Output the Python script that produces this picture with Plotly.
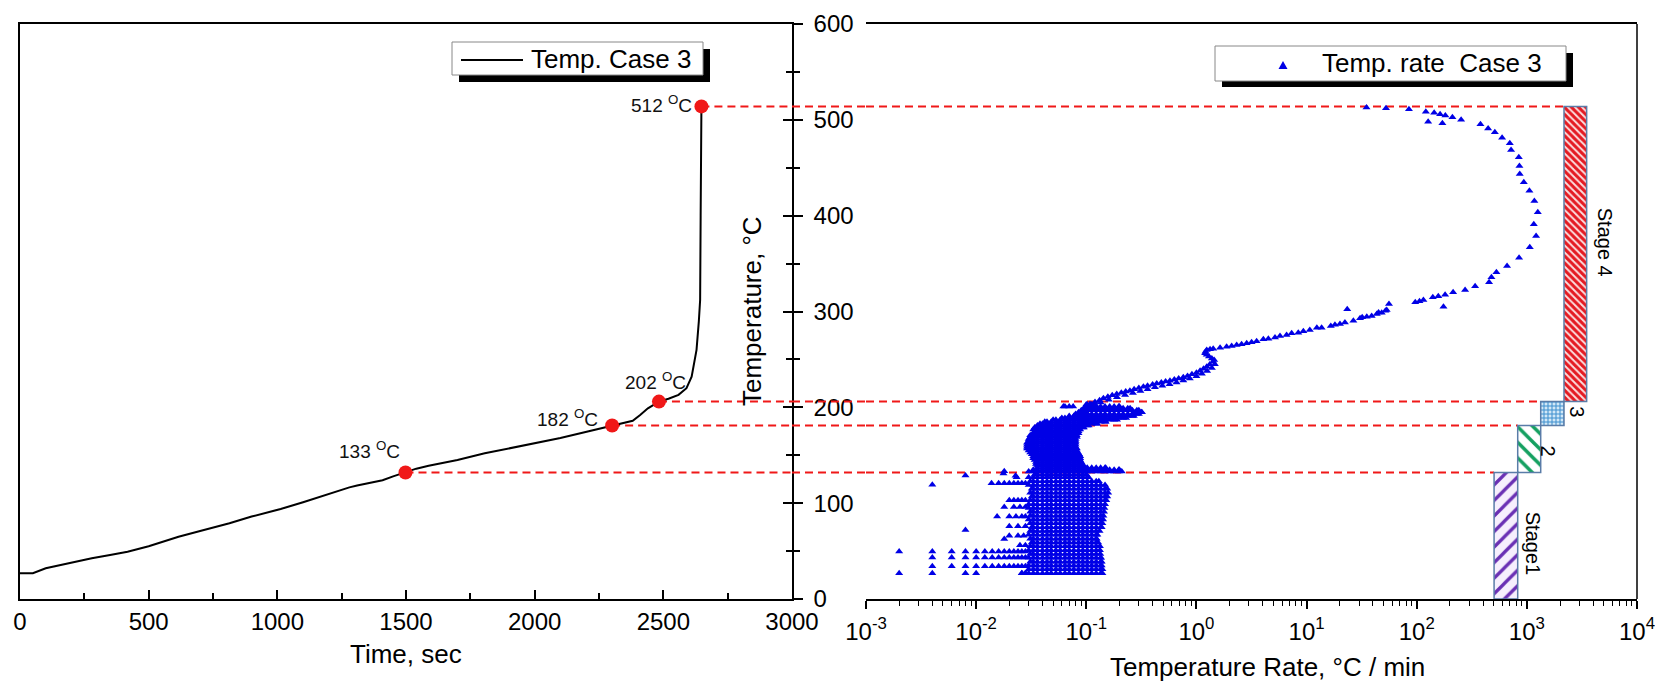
import math
import plotly.graph_objects as go

# ---------------- data : left panel (temperature history) ----------------
time_s = [0, 50, 100, 180, 279, 350, 418, 500, 616, 700, 814, 900, 1013, 1100, 1211, 1280,
          1310, 1409, 1450, 1498, 1540, 1588, 1700, 1806, 1900, 2004, 2100, 2202, 2301, 2350,
          2381, 2410, 2440, 2483, 2520, 2559, 2590, 2610, 2629, 2638, 2643, 2645, 2646, 2648]
temp_c = [27, 27, 32, 37, 42.5, 46, 49.4, 55, 65, 71, 79, 86, 94, 101, 111, 116.5,
          118.5, 124, 128, 132, 136, 139, 145, 152, 157, 162.5, 168, 174.6, 181, 184,
          186, 192, 199, 206, 209, 213, 220, 232, 260, 290, 312, 400, 480, 514]

# marked stage boundaries (plotted position and printed label)
mark_time = [1498, 2301, 2483, 2648]
mark_temp = [132, 181, 206, 514]
mark_label = ["133", "182", "202", "512"]

# ---------------- data : stage bars (right panel) ----------------
stage_names = ["Stage1", "2", "3", "Stage 4"]
stage_t_low = [0, 132, 181, 206]
stage_t_high = [132, 181, 206, 514]
stage_rate_low = [504, 826, 1336, 2174]
stage_rate_high = [826, 1336, 2174, 3491]

# ---------------- data : temperature rate scatter (right panel) ----------------
# dense cloud, read row by row: temperature, left edge and right edge of the filled band
rate_grid = [0.026, 0.028, 0.030, 0.033, 0.036, 0.040, 0.044, 0.048, 0.053, 0.058, 0.064,
             0.070, 0.077, 0.085, 0.093, 0.102, 0.112, 0.123, 0.135, 0.148, 0.163, 0.179,
             0.197, 0.216, 0.238, 0.262, 0.288, 0.317]
band_T = [27, 31, 35, 39, 43, 47, 51, 55, 59, 63, 67, 71, 75, 79, 83, 87, 91, 95, 99, 103,
          107, 111, 115, 119, 123, 127, 130,
          133, 135, 137, 139, 141, 143, 145, 147, 149, 151, 153, 155, 157, 159, 161, 163,
          165, 167, 169, 171, 173, 175, 177, 179, 181,
          183, 185, 187, 189, 191, 193, 195, 195, 197, 199, 201, 201, 203]
band_lo = [0.026, 0.030, 0.030, 0.031, 0.030, 0.031, 0.030, 0.031, 0.032, 0.031, 0.030, 0.031,
           0.032, 0.031, 0.030, 0.031, 0.031, 0.030, 0.030, 0.031, 0.032, 0.031, 0.032, 0.030,
           0.031, 0.030, 0.034,
           0.030, 0.033, 0.036, 0.036, 0.035, 0.035, 0.034, 0.033, 0.033, 0.032, 0.031, 0.030,
           0.029, 0.029, 0.029, 0.029, 0.030, 0.030, 0.031, 0.031, 0.033, 0.034, 0.033, 0.034,
           0.036,
           0.038, 0.042, 0.050, 0.060, 0.070, 0.080, 0.085, 0.270, 0.090, 0.095, 0.062, 0.100,
           0.100]
band_hi = [0.140, 0.140, 0.138, 0.138, 0.136, 0.134, 0.133, 0.133, 0.128, 0.124, 0.126, 0.132,
           0.138, 0.140, 0.142, 0.143, 0.145, 0.146, 0.148, 0.152, 0.155, 0.158, 0.155, 0.148,
           0.130, 0.105, 0.100,
           0.210, 0.200, 0.150, 0.095, 0.090, 0.090, 0.088, 0.088, 0.088, 0.086, 0.084, 0.082,
           0.082, 0.080, 0.080, 0.080, 0.080, 0.080, 0.082, 0.082, 0.085, 0.085, 0.088, 0.095,
           0.105,
           0.125, 0.150, 0.190, 0.230, 0.270, 0.300, 0.100, 0.320, 0.300, 0.250, 0.076, 0.200,
           0.120]

# isolated low-rate points, grouped by the row they sit on
stray_row_T = [49.5, 43.4, 34.2, 27.0, 120.7, 103, 96, 86, 76, 66, 56]
stray_row_rates = [
    [0.002, 0.004, 0.006, 0.008, 0.010, 0.012, 0.014, 0.016, 0.018, 0.020, 0.022, 0.024, 0.026, 0.028],
    [0.004, 0.006, 0.008, 0.010, 0.012, 0.014, 0.016, 0.018, 0.020, 0.022, 0.024, 0.026, 0.028],
    [0.004, 0.006, 0.008, 0.010, 0.012, 0.014, 0.016, 0.018, 0.020, 0.022, 0.024, 0.026, 0.028],
    [0.002, 0.004, 0.008, 0.010, 0.026, 0.028],
    [0.0138, 0.016, 0.018, 0.020, 0.022, 0.024, 0.026, 0.028],
    [0.020, 0.022, 0.024, 0.026, 0.028],
    [0.018, 0.022, 0.025, 0.028],
    [0.0155, 0.020, 0.023, 0.026, 0.028],
    [0.020, 0.024, 0.028],
    [0.020, 0.024, 0.027],
    [0.025, 0.028],
]
single_rate = [0.004, 0.008, 0.008, 0.018, 0.018, 0.0228, 0.0177, 0.0233]
single_T = [119.2, 128.9, 72, 62.6, 133.4, 128.7, 131, 127]

# upper curve (S-shaped band and the high-rate loop)
curve_rate = [0.108, 0.12, 0.132, 0.143, 0.157, 0.172, 0.189, 0.208, 0.228, 0.249, 0.272, 0.30,
              0.33, 0.36, 0.40, 0.436, 0.48, 0.525, 0.575, 0.63, 0.69, 0.76, 0.83, 0.91, 1.0,
              1.08, 1.16, 1.24, 1.32, 1.42, 1.45, 1.38, 1.30, 1.24, 1.20, 1.21, 1.24, 1.33,
              0.115, 0.135, 0.16, 0.19, 0.225, 0.265, 0.31, 0.36, 0.42, 0.49, 0.57, 0.66, 0.76,
              0.87, 1.0, 1.12, 1.25, 1.38, 1.47,
              1.42, 1.64, 1.88, 2.09, 2.32, 2.57, 2.86, 3.17, 3.52, 4.05, 4.50, 5.17, 5.74, 6.59,
              7.32, 8.41, 9.35, 10.7, 12.4, 13.7, 16.6, 18.1, 20.1, 22.3, 23.4, 26.6, 30.6, 35.2,
              39.0, 43.4, 48.1, 53.4,
              32, 45, 52, 56, 97, 106, 115, 140, 157, 181, 175, 214, 275, 339, 454, 477, 529,
              661, 850, 1063, 1213, 1156, 1257, 1170, 1055, 938, 862, 856, 845, 719, 700, 596,
              512, 445, 379, 253, 211, 182, 171, 163, 144, 127, 121, 85, 52.6, 35]
curve_T = [203.5, 205.5, 207.5, 209.4, 211, 212.5, 214, 215.2, 216.4, 217.4, 218.8, 220.2,
           221.5, 222.6, 223.8, 225, 226, 227, 227.8, 229, 230.2, 231.3, 232.8, 234.4, 236.2,
           238.2, 240.2, 242.4, 244.8, 247.6, 249.5, 251, 253, 254.8, 256.4, 258, 259.8, 260.5,
           202.5, 205, 208, 210.5, 213, 215, 217, 219, 221, 222.5, 224, 226, 228,
           230, 232.5, 235, 238, 241, 245,
           261.2, 262.3, 263.3, 264, 265, 265.7, 266.8, 267.8, 268.9, 271, 271.6, 273, 274.4,
           275.5, 277.2, 277.9, 279.3, 280.7, 283.1, 283.1, 284.9, 286.3, 287, 288.4, 302.3,
           290.4, 292.9, 294.6, 295.3, 297.4, 298.8, 301.6,
           294, 299, 300.8, 307.8, 309.6, 310.6, 312, 314.8, 315.8, 317.5, 305, 320, 322.4,
           326.3, 330.5, 335.7, 341, 347.5, 356, 367, 378.8, 391, 403.5, 415.3, 426, 435,
           443.5, 451.8, 461, 468.5, 475.5, 481.4, 487, 491, 495.3, 500, 502.7, 504.4, 496.4,
           505.8, 507.5, 498, 508.5, 511, 512, 513]

# ---------------- assemble scatter points ----------------
sc_rate, sc_T = [], []
for T, lo, hi in zip(band_T, band_lo, band_hi):
    row = [lo] + [g for g in rate_grid if lo < g < hi] + [hi]
    sc_rate += row
    sc_T += [T] * len(row)
for T, row in zip(stray_row_T, stray_row_rates):
    sc_rate += row
    sc_T += [T] * len(row)
sc_rate += single_rate
sc_T += single_T
sc_rate += curve_rate
sc_T += curve_T

# ---------------- layout helpers ----------------
# the page body keeps its default 8px margin, so the figure is placed 8px in
OFF = 8
W, H = 1663 - OFF, 686 - OFF
def fx(p):
    return (p - OFF) / W
def fy(p):
    return 1 - (p - OFF) / H

X1_DOM = [fx(20), fx(792)]
X2_DOM = [fx(866), fx(1637)]
Y_DOM = [fy(599), fy(24)]
FONT = "Liberation Sans, Arial, sans-serif"
RED = "#f01818"
BLUE = "#0000e6"

fig = go.Figure()

# left panel curve
fig.add_trace(go.Scatter(x=time_s, y=temp_c, mode="lines", xaxis="x", yaxis="y",
                         line=dict(color="black", width=2), showlegend=False, hoverinfo="skip"))

# stage bars
pat = [
    dict(shape="/", fgcolor="#6a30b4", bgcolor="#f6effd", size=11, solidity=0.3),
    dict(shape="\\", fgcolor="#14a060", bgcolor="#ffffff", size=11, solidity=0.32),
    dict(shape="+", fgcolor="#3f90cf", bgcolor="#d2e8f7", size=4, solidity=0.45),
    dict(shape="\\", fgcolor="#e41a22", bgcolor="#fcdede", size=5, solidity=0.6),
]
for i in range(4):
    fig.add_trace(go.Bar(
        orientation="h", xaxis="x2", yaxis="y",
        y=[(stage_t_low[i] + stage_t_high[i]) / 2],
        width=[stage_t_high[i] - stage_t_low[i]],
        base=[stage_rate_low[i]],
        x=[stage_rate_high[i] - stage_rate_low[i]],
        marker=dict(color=pat[i]["bgcolor"], pattern=pat[i],
                    line=dict(color="#5a7ca8", width=1.5)),
        showlegend=False, hoverinfo="skip"))

# scatter of temperature rate
fig.add_trace(go.Scatter(x=sc_rate, y=sc_T, mode="markers", xaxis="x2", yaxis="y",
                         marker=dict(symbol="triangle-up", size=7, color=BLUE, line=dict(width=0)),
                         showlegend=False, hoverinfo="skip"))

# markers at stage boundaries
fig.add_trace(go.Scatter(x=mark_time, y=mark_temp, mode="markers", xaxis="x", yaxis="y",
                         marker=dict(size=14, color=RED), cliponaxis=False,
                         showlegend=False, hoverinfo="skip"))

# helper trace so the crossing tick axis is drawn
fig.add_trace(go.Scatter(x=[], y=[], xaxis="x", yaxis="y3", showlegend=False))

shapes = []
# dashed connectors
for t, T, r in zip(mark_time, mark_temp, stage_rate_low):
    dl = dict(color=RED, width=2, dash="8px,5px")
    shapes.append(dict(type="line", xref="x", yref="y", x0=t, x1=3000, y0=T, y1=T, line=dl, layer="below"))
    shapes.append(dict(type="line", xref="paper", yref="y", x0=X1_DOM[1], x1=X2_DOM[0], y0=T, y1=T, line=dl))
    shapes.append(dict(type="line", xref="x2", yref="y", x0=0.001, x1=r, y0=T, y1=T, line=dl, layer="below"))
# right border of right panel
shapes.append(dict(type="line", xref="x2 domain", yref="y domain", x0=1, x1=1, y0=0, y1=1,
                   line=dict(color="black", width=1.5)))
# legend 1 (shadow + box + line sample)
shapes.append(dict(type="rect", xref="paper", yref="paper", x0=fx(459), x1=fx(710), y0=fy(82), y1=fy(49),
                   fillcolor="black", line=dict(width=0)))
shapes.append(dict(type="rect", xref="paper", yref="paper", x0=fx(452), x1=fx(703), y0=fy(75), y1=fy(42),
                   fillcolor="white", line=dict(color="#888888", width=1)))
shapes.append(dict(type="line", xref="paper", yref="paper", x0=fx(461), x1=fx(523), y0=fy(60), y1=fy(60),
                   line=dict(color="black", width=2)))
# legend 2
shapes.append(dict(type="rect", xref="paper", yref="paper", x0=fx(1222), x1=fx(1573), y0=fy(87), y1=fy(53),
                   fillcolor="black", line=dict(width=0)))
shapes.append(dict(type="rect", xref="paper", yref="paper", x0=fx(1215), x1=fx(1566), y0=fy(81), y1=fy(46),
                   fillcolor="white", line=dict(color="#888888", width=1)))
tri = "M %f,%f L %f,%f L %f,%f Z" % (fx(1278.5), fy(69), fx(1287.5), fy(69), fx(1283), fy(61))
shapes.append(dict(type="path", xref="paper", yref="paper", path=tri, fillcolor=BLUE, line=dict(width=0)))

ann = []
# legend texts
ann.append(dict(xref="paper", yref="paper", x=fx(529), y=fy(59), xanchor="left", yanchor="middle",
                text="Temp. Case 3", showarrow=False, font=dict(size=26, color="black", family=FONT)))
ann.append(dict(xref="paper", yref="paper", x=fx(1320), y=fy(63), xanchor="left", yanchor="middle",
                text="Temp. rate\u00a0 Case 3", showarrow=False, font=dict(size=26, color="black", family=FONT)))
# axis titles
ann.append(dict(xref="paper", yref="paper", x=fx(406), y=fy(654), xanchor="center", yanchor="middle",
                text="Time, sec", showarrow=False, font=dict(size=26, color="black", family=FONT)))
ann.append(dict(xref="paper", yref="paper", x=fx(1267), y=fy(667), xanchor="center", yanchor="middle",
                text="Temperature Rate, °C / min", showarrow=False, font=dict(size=26, color="black", family=FONT)))
ann.append(dict(xref="paper", yref="paper", x=fx(752), y=fy(311), xanchor="center", yanchor="middle",
                text="Temperature, °C", textangle=-90, showarrow=False,
                font=dict(size=26, color="black", family=FONT)))
# boundary labels
lab_pos = [("center", -36, 23), ("right", -12, 8), ("center", -3, 21), ("right", -7, 2)]
for (xa, xs, ys), t, T, lab in zip(lab_pos, mark_time, mark_temp, mark_label):
    ann.append(dict(xref="x", yref="y", x=t, y=T, xanchor=xa, yanchor="middle", xshift=xs, yshift=ys,
                    text=lab + " <sup>O</sup>C", showarrow=False,
                    font=dict(size=19, color="#111111", family=FONT)))
# stage labels
stage_lab_rate = [1137, 1556, 2850, 5130]
stage_lab_T = [58.7, 155, 195, 372.7]
for name, r, T in zip(stage_names, stage_lab_rate, stage_lab_T):
    ann.append(dict(xref="x2", yref="y", x=math.log10(r), y=T, xanchor="center", yanchor="middle",
                    text=name, textangle=90, showarrow=False,
                    font=dict(size=20, color="black", family=FONT)))

decades = [-3, -2, -1, 0, 1, 2, 3, 4]
minor_vals = [m * 10 ** d for d in decades[:-1] for m in range(2, 10)]

axis_common = dict(showgrid=False, zeroline=False, linecolor="black", linewidth=1.5, automargin=False,
                   tickcolor="black", tickwidth=1.5, tickfont=dict(size=24, color="black", family=FONT))

fig.update_layout(
    template="none",
    width=W, height=H, margin=dict(l=0, r=0, t=0, b=0, pad=0, autoexpand=False),
    paper_bgcolor="white", plot_bgcolor="white", showlegend=False,
    barmode="overlay", font=dict(family=FONT, color="black"),
    xaxis=dict(domain=X1_DOM, anchor="y", range=[0, 3000], tickvals=[0, 500, 1000, 1500, 2000, 2500, 3000],
               ticks="inside", ticklen=9, showline=True, mirror=True, ticklabelstandoff=0,
               minor=dict(ticks="inside", ticklen=6, tickvals=[250, 750, 1250, 1750, 2250, 2750],
                          tickcolor="black", tickwidth=1.5),
               **axis_common),
    yaxis=dict(domain=Y_DOM, anchor="x", side="right", range=[0, 600],
               tickvals=[0, 100, 200, 300, 400, 500, 600], ticks="outside", ticklen=9,
               showline=True, mirror=True, ticklabelstandoff=6,
               minor=dict(ticks="outside", ticklen=6, tickvals=[50, 150, 250, 350, 450, 550],
                          tickcolor="black", tickwidth=1.5),
               **axis_common),
    yaxis3=dict(domain=Y_DOM, anchor="x", overlaying="y", side="right", range=[0, 600],
                tickvals=[0, 100, 200, 300, 400, 500, 600], ticks="inside", ticklen=9,
                showticklabels=False, showline=False,
                minor=dict(ticks="inside", ticklen=6, tickvals=[50, 150, 250, 350, 450, 550],
                           tickcolor="black", tickwidth=1.5),
                **axis_common),
    xaxis2=dict(domain=X2_DOM, anchor="y", type="log", range=[-3, 4],
                tickvals=[10 ** d for d in decades],
                ticktext=["10<sup>%d</sup>" % d for d in decades],
                ticks="outside", ticklen=8, showline=True, mirror=True, ticklabelstandoff=2,
                minor=dict(ticks="outside", ticklen=5, tickvals=minor_vals,
                           tickcolor="black", tickwidth=1.2),
                **axis_common),
    shapes=shapes, annotations=ann,
)

fig.write_html("out.html")
